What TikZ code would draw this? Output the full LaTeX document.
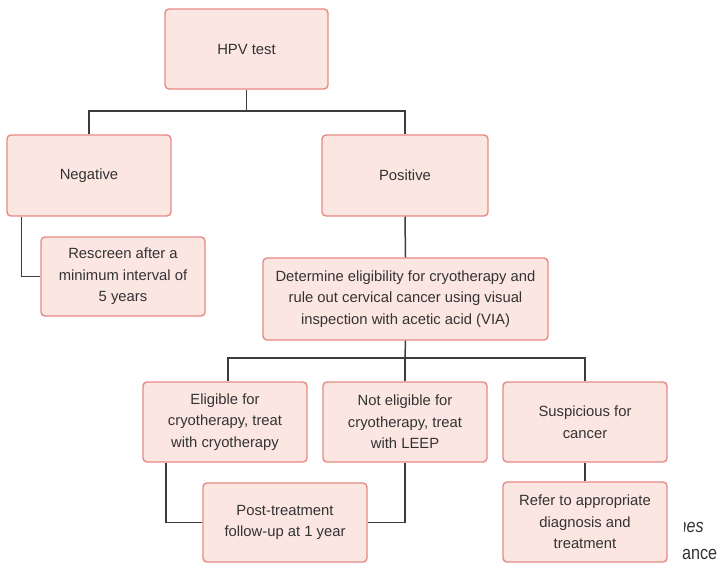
\documentclass[tikz,border=0pt]{standalone}
\usepackage{fontspec}
\setmainfont{Liberation Sans}
\newfontfamily\narrowfont[FakeStretch=0.85]{Liberation Sans}
\definecolor{boxfill}{HTML}{FCE6E2}
\definecolor{boxline}{HTML}{E58A83}
\definecolor{txt}{HTML}{333333}
\definecolor{wire}{HTML}{3C3C3C}
\begin{document}
\begin{tikzpicture}[x=1pt,y=-1pt,
  flowbox/.style={draw=boxline, fill=boxfill, line width=1.4pt, rounded corners=4pt,
    align=center, text=txt, inner sep=0pt,
    font=\fontsize{14.8}{21.5}\selectfont},
  wirestyle/.style={draw=wire, line width=1.5pt},
  fragtext/.style={anchor=base west, inner sep=0pt, text=txt}]
\useasboundingbox (0,0) rectangle (725,563);

\node[flowbox, minimum width=163pt, minimum height=80pt] (hpv) at (246.5,49) {HPV test};
\node[flowbox, minimum width=164pt, minimum height=81pt] (neg) at (89,175.5) {Negative};
\node[flowbox, minimum width=166pt, minimum height=81pt] (pos) at (405,175.5) {Positive};
\node[flowbox, minimum width=164pt, minimum height=79pt] (resc) at (123,276.5) {Rescreen after a\\minimum interval of\\5 years};
\node[flowbox, minimum width=285pt, minimum height=82pt] (det) at (405.5,299) {Determine eligibility for cryotherapy and\\rule out cervical cancer using visual\\inspection with acetic acid (VIA)};
\node[flowbox, minimum width=164pt, minimum height=80pt] (elig) at (225,422) {Eligible for\\cryotherapy, treat\\with cryotherapy};
\node[flowbox, minimum width=164pt, minimum height=80pt] (note) at (405,422) {Not eligible for\\cryotherapy, treat\\with LEEP};
\node[flowbox, minimum width=164pt, minimum height=80pt] (susp) at (585,422) {Suspicious for\\cancer};
\node[flowbox, minimum width=164pt, minimum height=79pt] (post) at (285,522.5) {Post-treatment\\follow-up at 1 year};
\node[flowbox, minimum width=164pt, minimum height=80pt] (refer) at (585,522) {Refer to appropriate\\diagnosis and\\treatment};

% connectors
\coordinate (j1) at (246.5,111);
\coordinate (j2) at (405,358);
\draw[wirestyle] (hpv.south) -- (j1);
\draw[wirestyle] (neg.north) |- (j1) -| (pos.north);
\draw[wirestyle] ([xshift=15pt]neg.south west) |- (resc.west);
\draw[wirestyle] (pos.south) -- (det.north);
\draw[wirestyle] (det.south) -- (j2);
\draw[wirestyle] ([xshift=3pt]elig.north) |- (j2) -| (susp.north);
\draw[wirestyle] (j2) -- (note.north);
\draw[wirestyle] ([xshift=-59pt]elig.south) |- (post.west);
\draw[wirestyle] (note.south) |- (post.east);
\draw[wirestyle] (susp.south) -- (refer.north);

% partially visible background text
\begin{scope}
\clip (684,505) rectangle (725,563);
\node[fragtext, font=\narrowfont\fontsize{19}{19}\selectfont\itshape] (frag1) at (677.5,532) {nes};
\end{scope}
\node[fragtext, font=\narrowfont\fontsize{19}{19}\selectfont] (frag2) at (682,559) {ance};
\end{tikzpicture}
\end{document}
